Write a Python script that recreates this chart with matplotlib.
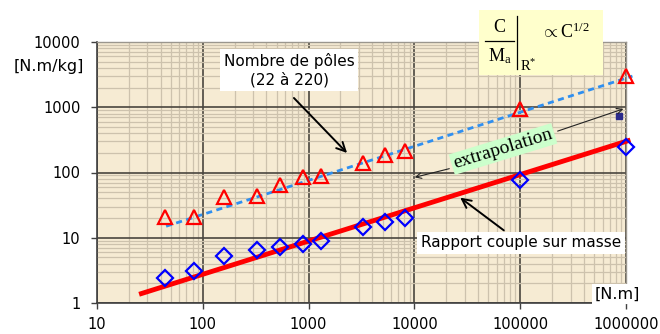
import matplotlib
matplotlib.use("Agg")
import matplotlib.pyplot as plt
from matplotlib.ticker import FixedLocator, FixedFormatter, LogLocator, NullFormatter
from matplotlib.lines import Line2D
from matplotlib.patches import FancyArrowPatch, Rectangle

# Torque [N.m] and measured ratios
torque = [44, 83, 160, 325, 540, 890, 1300, 3250, 5250, 8100, 100000, 1000000]
poles_ratio = [21, 21, 42, 43, 64, 86, 88, 139, 185, 213, 950, 3000]
mass_ratio = [2.4, 3.1, 5.3, 6.6, 7.3, 8.0, 9.0, 14.7, 17.2, 20.3, 78, 247]

# Power-law trend lines (end points)
poles_fit_torque = [45, 1150000]
poles_fit_value = [15, 3000]
mass_fit_torque = [25, 1100000]
mass_fit_value = [1.36, 315]

# Extrapolated point
extra_torque = [850000]
extra_value = [730]

x_ticks = [10, 100, 1000, 10000, 100000, 1000000]
x_tick_labels = ["10", "100", "1000", "10000", "100000", "1000000"]
y_ticks = [1, 10, 100, 1000, 10000]
y_tick_labels = ["1", "10", "100", "1000", "10000"]

W, H = 660, 334
plt.rcParams["font.family"] = ["DejaVu Sans"]
plt.rcParams["mathtext.fontset"] = "custom"
plt.rcParams["mathtext.rm"] = "Liberation Serif"
plt.rcParams["mathtext.it"] = "Liberation Serif:italic"

fig = plt.figure(figsize=(W / 100, H / 100), dpi=100)
fig.patch.set_facecolor("white")


def P(x, y):
    """Pixel position (from top-left) to figure fraction."""
    return (x / W, 1 - y / H)


ax = fig.add_axes([97 / W, 1 - 303 / H, (626 - 97) / W, (303 - 42) / H])
ax.set_xscale("log")
ax.set_yscale("log")
ax.set_xlim(10, 1000000)
ax.set_ylim(1, 10000)
ax.set_facecolor("#f6ebd3")

ax.xaxis.set_major_locator(FixedLocator(x_ticks))
ax.xaxis.set_major_formatter(FixedFormatter(x_tick_labels))
ax.yaxis.set_major_locator(FixedLocator(y_ticks))
ax.yaxis.set_major_formatter(FixedFormatter(y_tick_labels))
for a in (ax.xaxis, ax.yaxis):
    a.set_minor_locator(LogLocator(base=10, subs=range(2, 10), numticks=20))
    a.set_minor_formatter(NullFormatter())

ax.grid(which="minor", color="#cdc2ad", lw=0.9, zorder=0)
ax.grid(which="major", color="#4a463f", lw=1.2, zorder=0)
ax.set_axisbelow(True)

ax.tick_params(which="major", direction="out", length=4, width=1, color="#404040",
               labelsize=10.5, pad=8)
ax.tick_params(which="minor", length=0)
ax.tick_params(axis="x", pad=6, labelsize=10.5)

for s in ("left", "bottom"):
    ax.spines[s].set_color("#404040")
    ax.spines[s].set_linewidth(1.2)
for s in ("right", "top"):
    ax.spines[s].set_color("#9a968e")
    ax.spines[s].set_linewidth(1.0)

# Trend lines
ax.plot(poles_fit_torque, poles_fit_value, color="#2f8ff0", lw=2, ls=(0, (2.2, 1.6)),
        zorder=3, clip_on=False)
ax.plot(mass_fit_torque, mass_fit_value, color="#ff0000", lw=3.5, zorder=3,
        solid_capstyle="butt", clip_on=False)

# Measured points
ax.plot(torque, poles_ratio, ls="none", marker="^", ms=10.5, mfc="none", mec="#ff0000",
        mew=1.6, zorder=4, clip_on=False)
ax.plot(torque, mass_ratio, ls="none", marker="D", ms=8.5, mfc="none", mec="#0000ff",
        mew=1.6, zorder=4, clip_on=False)
ax.plot(extra_torque, extra_value, ls="none", marker="s", ms=4.5, mfc="#2a2a8c",
        mec="#2a2a8c", zorder=4)

# Axis unit labels
fig.text(*P(49, 66), "[N.m/kg]", ha="center", va="center", fontsize=11.5)
fig.text(*P(617, 294), "[N.m]", ha="center", va="center", fontsize=11.5,
         bbox=dict(fc="white", ec="none", pad=2))

arrow_kw = dict(arrowstyle="->", color="black", lw=1.4, mutation_scale=16)
thin_kw = dict(arrowstyle="->", color="#222222", lw=0.8, mutation_scale=10)

# Pole count label
fig.text(*P(289, 70), "Nombre de pôles\n(22 à 220)", ha="center", va="center",
         fontsize=11, linespacing=1.25, bbox=dict(fc="white", ec="none", pad=2.5))
fig.add_artist(FancyArrowPatch(P(292, 96), P(349, 155), transform=fig.transFigure,
                               **arrow_kw))

# Torque-to-mass label
fig.text(*P(521, 243), "Rapport couple sur masse", ha="center", va="center",
         fontsize=11, bbox=dict(fc="white", ec="none", pad=2.5))
fig.add_artist(FancyArrowPatch(P(506, 232), P(458, 196), transform=fig.transFigure,
                               **arrow_kw))

# Extrapolation label with arrows
fig.add_artist(FancyArrowPatch(P(452, 168), P(412, 178), transform=fig.transFigure,
                               **thin_kw))
fig.add_artist(FancyArrowPatch(P(555, 132), P(626, 108), transform=fig.transFigure,
                               **thin_kw))
fig.text(*P(503, 149), "extrapolation", ha="center", va="center", rotation=17,
         rotation_mode="anchor", fontsize=14, family="Liberation Serif",
         bbox=dict(fc="#ccffcc", ec="none", pad=1.5))

# Scaling-law box
fig.add_artist(Rectangle(P(479, 75), 124 / W, 65 / H, transform=fig.transFigure,
                         fc="#ffffcc", ec="none", zorder=5))
serif = dict(family="Liberation Serif", zorder=6)
fig.text(*P(499, 28), "C", ha="center", va="center", fontsize=13, **serif)
fig.add_artist(Line2D([485 / W, 514 / W], [1 - 41 / H, 1 - 41 / H],
                      transform=fig.transFigure, color="black", lw=0.9, zorder=6))
fig.text(*P(500, 56), r"$\mathrm{M}_{\mathrm{a}}$", ha="center", va="center",
         fontsize=13, **serif)
fig.add_artist(Line2D([517 / W, 517 / W], [1 - 16 / H, 1 - 69 / H],
                      transform=fig.transFigure, color="black", lw=0.9, zorder=6))
fig.text(*P(520, 66), r"$\mathrm{R}^{*}$", ha="left", va="center",
         fontsize=10.5, **serif)
fig.text(*P(541, 32), r"$\propto \mathrm{C}^{1/2}$", ha="left", va="center",
         fontsize=13, **serif)

fig.savefig("out.png", dpi=100)
